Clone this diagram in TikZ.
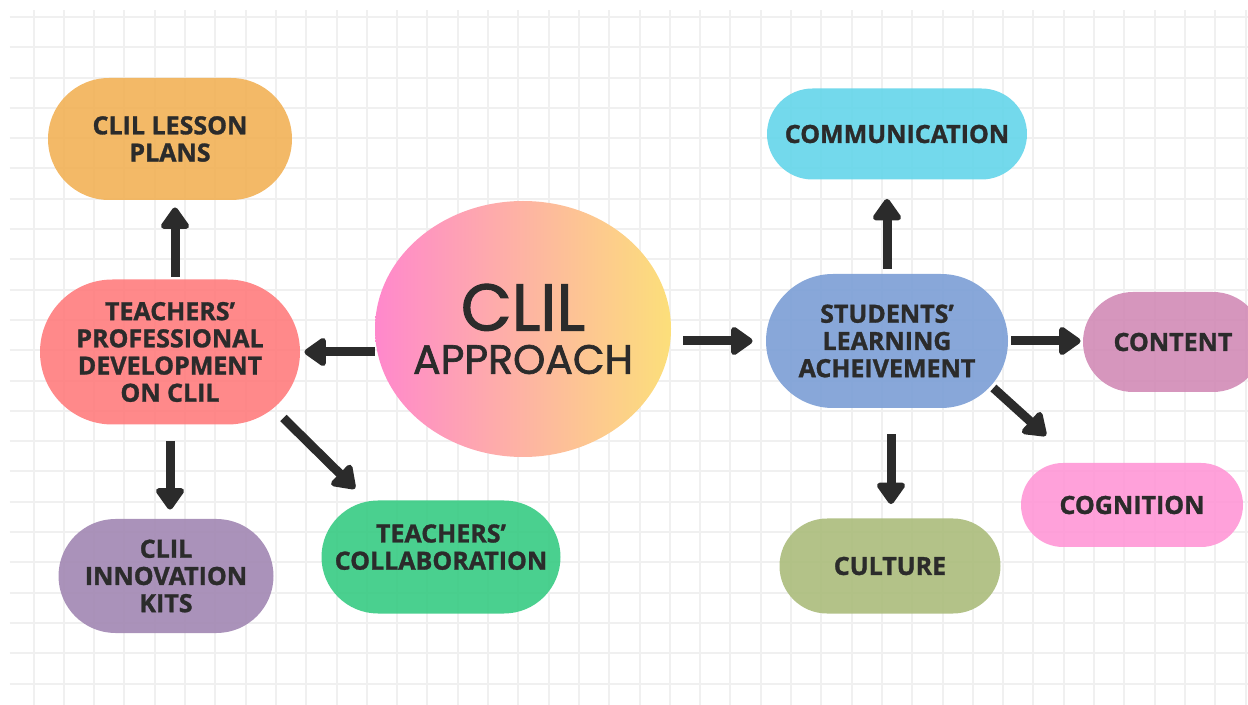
\documentclass[tikz,border=0pt]{standalone}
\usepackage{fontspec}
\setmainfont{Open Sans}[BoldFeatures={FakeBold=1.2}]
\newfontfamily\titlefont{Poppins}[FakeBold=1.6]
\usetikzlibrary{arrows.meta,shapes.geometric,shapes.misc}

\definecolor{gridgray}{HTML}{F0F0F0}
\definecolor{inkdark}{HTML}{2B2B2B}
\definecolor{lessonorange}{HTML}{F2B35A}
\definecolor{pdred}{HTML}{FF7F80}
\definecolor{kitspurple}{HTML}{A389B4}
\definecolor{collabgreen}{HTML}{3BCC85}
\definecolor{commcyan}{HTML}{67D6EA}
\definecolor{studblue}{HTML}{7EA0D6}
\definecolor{contentmauve}{HTML}{D28DB7}
\definecolor{cognpink}{HTML}{FF99D7}
\definecolor{cultureolive}{HTML}{ACBD7E}
\definecolor{clilpink}{HTML}{FF88CC}
\definecolor{clilyellow}{HTML}{FCDF7A}

\begin{document}
\begin{tikzpicture}[x=0.5pt,y=-0.5pt]
		\useasboundingbox (0,0) rectangle (1248,705);
		\clip (0,0) rectangle (1248,705);

		% squared paper
		\begin{scope}[draw=gridgray,line width=1pt]
			\foreach \i in {0,...,40}
				\draw (33.5+30.3*\i,10) -- (33.5+30.3*\i,705);
			\foreach \j in {0,...,22}
				\draw (9.6,17+30.3*\j) -- (1248,17+30.3*\j);
		\end{scope}

		\node (clil) [ellipse,inner ysep=0pt,inner xsep=-3pt,minimum width=148pt,minimum height=128pt,
			left color=clilpink,right color=clilyellow,text=inkdark,align=center]
			at (523,329) {\titlefont\fontsize{33}{33}\selectfont CLIL\\[6pt]
			\titlefont\fontsize{20.5}{20.5}\selectfont APPROACH};

		\begin{scope}[every node/.style={rounded rectangle,inner sep=0pt,align=center,
					text=inkdark,fill opacity=0.92,text opacity=1,
					font=\bfseries\fontsize{12.5}{13.6}\selectfont}]
			\node (lesson) [fill=lessonorange,minimum width=122pt,minimum height=61pt]
				at (170,139) {CLIL LESSON\\PLANS};
			\node (pd) [fill=pdred,minimum width=130pt,minimum height=72.5pt]
				at (170,352) {TEACHERS’\\PROFESSIONAL\\DEVELOPMENT\\ON CLIL};
			\node (kits) [fill=kitspurple,minimum width=107.5pt,minimum height=57pt]
				at (166,576) {CLIL\\INNOVATION\\KITS};
			\node (collab) [fill=collabgreen,minimum width=119.5pt,minimum height=56.5pt,text depth=10pt]
				at (441,557) {TEACHERS’\\COLLABORATION};
			\node (comm) [fill=commcyan,minimum width=130pt,minimum height=45.5pt]
				at (897,134) {COMMUNICATION};
			\node (stud) [fill=studblue,minimum width=121pt,minimum height=67pt]
				at (887,341) {STUDENTS’\\LEARNING\\ACHEIVEMENT};
			\node (content) [fill=contentmauve,minimum width=90pt,minimum height=50pt]
				at (1173,342) {CONTENT};
			\node (cogn) [fill=cognpink,minimum width=111pt,minimum height=42pt]
				at (1132,505) {COGNITION};
			\node (culture) [fill=cultureolive,minimum width=110.5pt,minimum height=47.5pt]
				at (890,566) {CULTURE};
		\end{scope}

		\begin{scope}[>={Triangle[round,width=16pt,length=12pt]},
					every edge/.style={draw=inkdark,line width=4.5pt}]
			\path [->] (pd.east -| clil.west) edge [shorten >=2pt] (pd.east);
			\path [->] ([xshift=2.5pt]pd.north) edge [shorten <=1pt,shorten >=3.5pt] ([xshift=2.5pt]lesson.south);
			\path [->] (pd.south) edge [shorten <=8pt,shorten >=4.5pt] (pd.south |- kits.north);
			\path [->] ([shift={(-8.5pt,-33pt)}]pd.east) edge ([shift={(-43pt,5.75pt)}]collab.north);
			\path [->] (clil.east |- stud.west) edge [shorten <=6pt,shorten >=6.5pt] (stud.west);
			\path [->] (stud.north) edge [shorten <=2.5pt,shorten >=9.5pt] (stud.north |- comm.south);
			\path [->] (stud.east) edge [shorten <=1.5pt,shorten >=1pt] (stud.east -| content.west);
			\path [->] ([shift={(-7.5pt,-23.5pt)}]stud.east) edge ([shift={(-43pt,13.5pt)}]cogn.north);
			\path [->] ([xshift=2pt]stud.south) edge [shorten <=13pt,shorten >=7pt] ([xshift=2pt]stud.south |- culture.north);
		\end{scope}
	\end{tikzpicture}
\end{document}
